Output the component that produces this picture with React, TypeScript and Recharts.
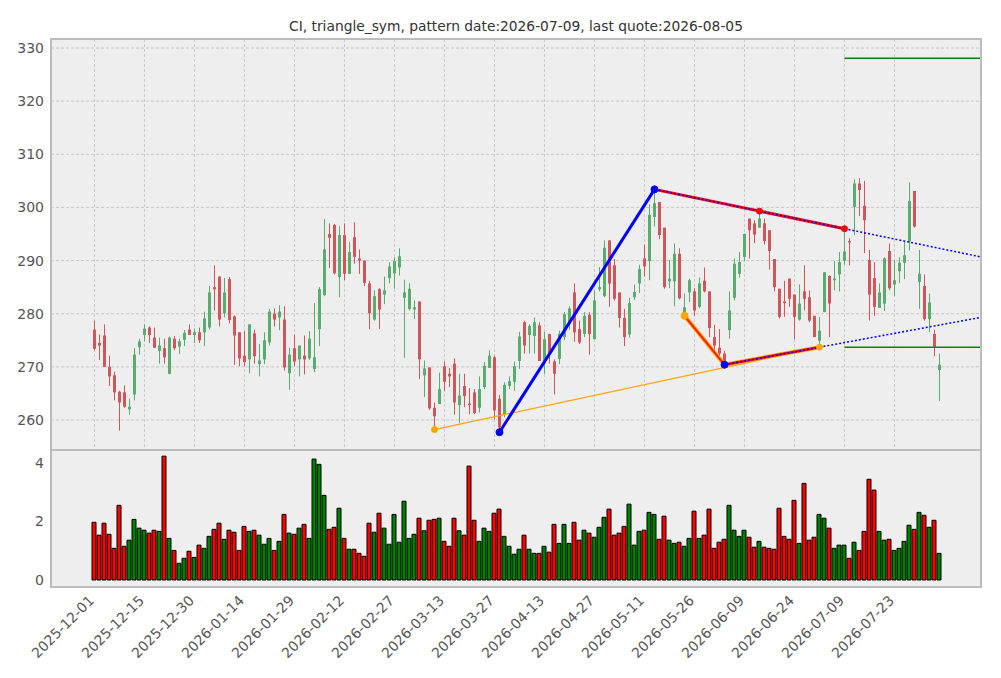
import React from 'react'
import {
  ComposedChart, Bar, Cell, XAxis, YAxis, CartesianGrid, ReferenceLine, ReferenceDot,
} from 'recharts'

// daily candles, bar index 0 = 2025-12-01
const opens = [
  277.0, 274.5, 275.9, 270.0, 268.4, 265.3, 265.2, 262.0, 264.8, 273.7,
  276.0, 277.4, 275.5, 273.0, 273.5, 268.7, 275.3, 273.8, 275.1, 277.0,
  276.0, 276.5, 276.5, 277.4, 285.0, 287.0, 280.1, 286.5, 279.5, 276.5,
  272.1, 271.4, 276.3, 270.5, 271.4, 274.6, 280.0, 279.3, 278.9, 268.8,
  273.5, 271.4, 272.1, 271.6, 269.6, 277.1, 283.5, 295.0, 296.7, 286.9,
  294.8, 287.5, 294.4, 290.4, 290.0, 285.7, 278.9, 284.6, 283.6, 286.7,
  287.6, 288.7, 283.0, 280.9, 280.8, 282.3, 268.4, 269.9, 262.3, 263.0,
  270.1, 268.7, 270.6, 262.8, 266.4, 263.1, 265.2, 262.3, 266.2, 269.8,
  271.8, 264.0, 261.0, 266.4, 267.2, 271.1, 278.4, 276.0, 275.8, 277.8,
  271.0, 276.2, 271.0, 271.5, 275.6, 278.4, 284.0, 277.1, 276.2, 279.8,
  275.2, 284.6, 283.3, 293.8, 289.1, 284.0, 279.2, 276.1, 283.1, 285.7,
  290.4, 289.9, 298.2, 301.0, 296.2, 286.1, 286.1, 291.3, 280.2, 284.0,
  284.2, 281.3, 286.2, 284.2, 275.6, 273.6, 272.5, 276.9, 283.0, 287.5,
  290.7, 297.9, 297.0, 296.2, 297.0, 295.7, 290.3, 284.7, 282.3, 286.6,
  283.6, 278.9, 284.2, 283.1, 279.6, 274.9, 280.3, 287.1, 286.3, 287.4,
  290.0, 293.7, 300.1, 304.5, 300.3, 290.1, 286.7, 281.1, 281.9, 291.8,
  285.5, 288.0, 289.6, 293.6, 303.1, 286.0, 285.2, 279.0, 276.2, 269.4,
]
const highs = [
  278.7, 276.1, 278.0, 272.1, 269.1, 265.5, 266.5, 264.0, 273.5, 275.3,
  278.0, 277.6, 277.4, 275.5, 275.3, 275.7, 275.8, 275.3, 276.9, 278.0,
  277.2, 277.4, 280.4, 285.2, 289.1, 287.0, 286.7, 286.9, 279.7, 276.5,
  276.7, 278.0, 277.0, 274.3, 276.5, 280.9, 281.0, 281.6, 281.4, 273.6,
  276.1, 274.0, 275.9, 276.7, 282.0, 285.0, 297.8, 297.0, 296.9, 296.5,
  297.0, 293.5, 297.2, 292.1, 290.0, 286.2, 284.4, 284.8, 287.0, 289.7,
  290.6, 292.3, 286.4, 285.8, 282.5, 282.3, 271.2, 269.9, 263.3, 268.9,
  271.0, 269.8, 271.6, 268.7, 268.7, 266.0, 265.8, 268.2, 270.9, 273.1,
  272.1, 264.7, 267.1, 268.2, 271.0, 276.6, 278.7, 278.0, 279.3, 278.4,
  276.6, 276.2, 271.4, 276.8, 280.3, 281.4, 285.7, 278.7, 280.3, 280.3,
  284.4, 288.8, 293.8, 293.8, 290.3, 284.0, 280.9, 283.0, 285.5, 289.2,
  293.0, 300.6, 303.4, 301.0, 296.2, 290.1, 293.2, 292.3, 283.8, 286.6,
  284.8, 286.8, 288.7, 284.2, 277.9, 277.1, 273.0, 284.2, 290.4, 291.6,
  295.1, 297.9, 297.6, 299.3, 297.9, 295.7, 290.3, 284.7, 286.2, 286.6,
  283.6, 285.5, 289.1, 284.4, 279.6, 279.4, 287.8, 287.2, 289.9, 291.6,
  296.0, 294.2, 305.3, 305.5, 305.0, 292.0, 289.7, 285.7, 290.6, 293.2,
  290.1, 290.6, 293.6, 304.7, 303.1, 292.0, 287.4, 283.8, 277.0, 272.5,
]
const lows = [
  273.1, 271.3, 270.0, 266.4, 263.7, 258.0, 262.3, 261.0, 263.7, 272.3,
  274.8, 274.5, 273.5, 270.6, 270.6, 268.6, 273.1, 272.4, 273.9, 276.0,
  274.5, 274.5, 273.9, 277.0, 280.6, 277.6, 279.3, 278.2, 270.4, 270.1,
  270.1, 268.8, 270.6, 268.2, 270.5, 274.0, 277.6, 276.9, 269.3, 265.7,
  270.1, 268.2, 268.6, 271.3, 269.0, 273.9, 283.3, 288.6, 287.4, 283.1,
  286.3, 287.5, 289.4, 287.5, 285.2, 277.1, 278.7, 277.1, 281.8, 285.7,
  284.7, 287.2, 271.7, 280.6, 279.0, 267.7, 264.3, 261.9, 258.2, 263.0,
  265.5, 266.2, 261.0, 259.4, 262.4, 261.1, 261.1, 261.4, 265.8, 269.8,
  260.1, 257.7, 260.5, 265.8, 265.5, 269.6, 272.5, 272.5, 272.5, 271.1,
  268.7, 270.6, 264.8, 270.5, 275.0, 277.0, 274.7, 274.3, 275.6, 272.3,
  275.2, 284.2, 283.1, 281.3, 282.5, 277.4, 273.9, 275.5, 282.6, 283.9,
  287.0, 286.3, 296.4, 294.0, 284.7, 284.8, 281.4, 282.7, 279.6, 282.2,
  279.6, 281.0, 284.0, 275.6, 273.1, 271.8, 270.4, 275.3, 282.5, 286.8,
  289.9, 290.4, 293.3, 296.2, 293.0, 288.3, 284.2, 279.1, 279.4, 281.3,
  275.2, 278.7, 280.6, 278.4, 275.6, 273.7, 280.3, 275.6, 284.4, 284.2,
  289.2, 289.1, 294.8, 298.4, 291.4, 278.7, 279.6, 281.1, 280.5, 284.4,
  283.3, 285.8, 286.5, 291.9, 296.2, 280.9, 278.7, 276.5, 272.0, 263.6,
]
const closes = [
  273.4, 274.0, 270.0, 268.2, 265.2, 263.3, 262.5, 262.5, 272.3, 274.8,
  277.2, 276.0, 273.6, 274.0, 271.8, 275.5, 273.5, 274.8, 276.4, 276.0,
  276.5, 275.0, 279.1, 284.0, 284.6, 278.9, 284.0, 278.8, 275.9, 271.6,
  270.9, 278.0, 272.0, 271.2, 275.0, 280.4, 278.9, 280.4, 269.9, 272.3,
  271.0, 274.0, 271.4, 275.3, 271.8, 284.6, 292.1, 294.3, 287.6, 294.8,
  287.5, 291.6, 290.7, 290.0, 285.8, 280.1, 283.3, 280.8, 284.4, 288.9,
  289.9, 290.8, 284.0, 284.7, 281.2, 271.4, 269.7, 262.2, 260.7, 265.8,
  267.2, 268.2, 263.3, 264.6, 264.5, 262.8, 261.3, 265.8, 270.2, 272.1,
  261.8, 258.6, 266.6, 267.3, 270.1, 275.7, 274.0, 277.7, 278.4, 271.1,
  275.2, 272.3, 268.7, 276.2, 279.9, 281.0, 276.5, 274.6, 279.6, 276.2,
  282.5, 285.0, 292.4, 285.7, 282.8, 279.2, 275.6, 282.0, 284.1, 288.4,
  288.9, 298.6, 300.8, 294.8, 285.0, 286.6, 291.3, 282.9, 281.2, 286.3,
  280.6, 285.7, 284.2, 277.3, 274.0, 272.5, 271.0, 280.6, 289.4, 289.7,
  295.0, 295.7, 294.9, 297.9, 293.7, 291.8, 285.0, 279.4, 282.0, 282.8,
  279.4, 281.9, 282.8, 278.7, 275.6, 276.8, 287.8, 281.9, 286.6, 289.7,
  291.7, 293.4, 304.5, 303.3, 297.6, 283.6, 281.3, 284.0, 290.4, 284.8,
  286.3, 289.6, 291.0, 301.2, 296.4, 287.5, 279.0, 282.1, 273.8, 270.4,
]
const volumes = [
  1.97, 1.53, 1.94, 1.56, 1.08, 2.55, 1.15, 1.36, 2.07, 1.77,
  1.70, 1.60, 1.70, 1.66, 4.23, 1.42, 1.01, 0.57, 0.74, 0.98,
  0.77, 1.19, 1.08, 1.49, 1.73, 1.94, 1.39, 1.70, 1.63, 1.01,
  1.83, 1.66, 1.70, 1.53, 1.22, 1.42, 1.01, 1.32, 2.24, 1.60,
  1.56, 1.77, 1.90, 1.42, 4.13, 3.95, 2.89, 1.73, 1.80, 2.45,
  1.42, 1.05, 1.05, 0.91, 0.81, 1.94, 1.63, 2.28, 1.77, 1.22,
  2.24, 1.29, 2.69, 1.42, 1.56, 2.11, 1.68, 2.04, 2.07, 2.11,
  1.32, 1.15, 2.11, 1.68, 1.53, 3.89, 2.04, 1.32, 1.77, 1.66,
  2.28, 2.42, 1.49, 1.15, 0.88, 1.05, 1.53, 1.05, 0.91, 0.91,
  1.15, 0.95, 1.90, 1.25, 1.90, 1.25, 1.97, 1.36, 1.70, 1.60,
  1.46, 1.80, 2.14, 2.42, 1.53, 1.60, 1.83, 2.59, 1.19, 1.66,
  1.70, 2.31, 2.24, 1.39, 2.18, 1.36, 1.25, 1.29, 1.15, 1.42,
  2.35, 1.42, 1.53, 2.42, 1.08, 1.29, 1.39, 2.55, 1.70, 1.49,
  1.70, 1.46, 1.12, 1.32, 1.12, 1.08, 1.05, 2.45, 1.49, 1.39,
  2.72, 1.25, 3.30, 1.36, 1.46, 2.24, 2.11, 1.77, 1.08, 1.19,
  1.19, 0.74, 1.29, 1.01, 1.66, 3.44, 3.07, 1.66, 1.36, 1.39,
  1.01, 1.08, 1.32, 1.87, 1.73, 2.31, 2.21, 1.80, 2.04, 0.91,
]

const xTicks = [0, 10, 20, 30, 40, 50, 60, 70, 80, 90, 100, 110, 120, 130, 140, 150, 160]
const xTickLabels = [
  '2025-12-01', '2025-12-15', '2025-12-30', '2026-01-14', '2026-01-29', '2026-02-12',
  '2026-02-27', '2026-03-13', '2026-03-27', '2026-04-13', '2026-04-27', '2026-05-11',
  '2026-05-26', '2026-06-09', '2026-06-24', '2026-07-09', '2026-07-23',
]
const priceTicks = [260, 270, 280, 290, 300, 310, 320, 330]
const volumeTicks = [0, 2, 4]

// pattern pivots: [bar index, price]
const upperPivots = [[112, 303.4], [133, 299.3], [150, 296.0]]
const lowerPivots = [[118, 279.6], [126, 270.4], [145, 273.7]]
const swingLine = [[81, 257.7], [112, 303.4]]
const baseLine = [[68, 258.2], [145, 273.7]]
const targetLevels = [328.1, 273.7]

const X_MIN = -8.7
const X_MAX = 177.3
const PRICE_DOMAIN = [254.35, 331.7]
const UP = '#008000'
const DOWN = '#ff0000'

const data = opens.map((o, i) => ({
  i,
  open: o,
  high: highs[i],
  low: lows[i],
  close: closes[i],
  volume: volumes[i],
}))

// extend a two-point line to the right edge
const extend = (a: number[], b: number[]) => {
  const slope = (b[1] - a[1]) / (b[0] - a[0])
  return [b[0], b[1], X_MAX, b[1] + slope * (X_MAX - b[0])]
}

const Candle = (props: any) => {
  const { x, y, width, height, payload } = props
  if (payload == null) return null
  const top = Math.min(y, y + height)
  const bottom = Math.max(y, y + height)
  const span = payload.high - payload.low || 1
  const py = (v: number) => top + ((payload.high - v) / span) * (bottom - top)
  const up = payload.close >= payload.open
  const color = up ? '#5aab6e' : '#cf565b'
  const cx = x + width / 2
  const bTop = py(Math.max(payload.open, payload.close))
  const bBot = py(Math.min(payload.open, payload.close))
  return (
    <g>
      <line x1={cx} x2={cx} y1={top} y2={bottom} stroke={color} strokeWidth={1} />
      <rect x={cx - 1.5} y={bTop} width={3} height={Math.max(bBot - bTop, 1)} fill={color} />
    </g>
  )
}

const DateTick = (props: any) => {
  const { x, y, payload } = props
  const idx = xTicks.indexOf(payload.value)
  const ax = x - 3
  const ay = y + 3
  return (
    <text
      x={ax}
      y={ay}
      transform={`rotate(-45 ${ax} ${ay})`}
      textAnchor="end"
      dy="0.35em"
      fontSize={14}
      fill="#555"
    >
      {xTickLabels[idx]}
    </text>
  )
}

const seg = (a: number[], b: number[]) => [{ x: a[0], y: a[1] }, { x: b[0], y: b[1] }]

export default function App() {
  const upperExt = extend(upperPivots[0], upperPivots[2])
  const lowerExt = extend(lowerPivots[1], lowerPivots[2])
  const panel = { position: 'absolute' as const, left: 50, width: 932, border: '2px solid #bcbcbc', boxSizing: 'border-box' as const, pointerEvents: 'none' as const }
  const yTick = { fontSize: 14, fill: '#555' }

  return (
    <div style={{ position: 'relative', width: 1001, height: 678, margin: -8, background: '#fff', fontFamily: '"DejaVu Sans", sans-serif', overflow: 'hidden' }}>
      <div style={{ position: 'absolute', left: 51, width: 930, top: 18, textAlign: 'center', fontSize: 13.8, color: '#333' }}>
        CI, triangle_sym, pattern date:2026-07-09, last quote:2026-08-05
      </div>

      {/* candles */}
      <div style={{ position: 'absolute', left: 0, top: 0 }}>
        <ComposedChart width={1001} height={450} data={data} margin={{ top: 39, right: 20, bottom: 0, left: 0 }}>
          <CartesianGrid fill="#eeeeee" stroke="#c0c0c0" strokeDasharray="3 2" strokeWidth={0.8} />
          <XAxis dataKey="i" type="number" domain={[X_MIN, X_MAX]} ticks={xTicks} allowDataOverflow hide />
          <YAxis
            type="number"
            domain={PRICE_DOMAIN}
            ticks={priceTicks}
            allowDataOverflow
            width={51}
            axisLine={false}
            tickLine={false}
            tickSize={0}
            tickMargin={7}
            tick={yTick}
          />
          <Bar dataKey={(d: any) => [d.low, d.high]} barSize={3} shape={<Candle />} isAnimationActive={false} />
        </ComposedChart>
      </div>

      {/* pattern lines, drawn on top of the candles */}
      <div style={{ position: 'absolute', left: 0, top: 0 }}>
        <ComposedChart width={1001} height={450} data={data} margin={{ top: 39, right: 20, bottom: 0, left: 51 }}>
          <XAxis dataKey="i" type="number" domain={[X_MIN, X_MAX]} allowDataOverflow hide />
          <YAxis type="number" domain={PRICE_DOMAIN} allowDataOverflow hide />

          <ReferenceLine segment={seg(baseLine[0], baseLine[1])} stroke="#ffa500" strokeWidth={1.2} />
          <ReferenceLine segment={seg(swingLine[0], swingLine[1])} stroke="#0000ff" strokeWidth={3} />

          <ReferenceLine segment={seg(upperPivots[0], upperPivots[2])} stroke="#ff0000" strokeWidth={3} />
          <ReferenceLine segment={seg(upperPivots[0], upperPivots[2])} stroke="#0000ff" strokeWidth={1.5} strokeDasharray="2 2" />
          <ReferenceLine segment={[{ x: upperExt[0], y: upperExt[1] }, { x: upperExt[2], y: upperExt[3] }]} stroke="#0000ff" strokeWidth={1.5} strokeDasharray="2 2" />

          <ReferenceLine segment={seg(lowerPivots[0], lowerPivots[1])} stroke="#ffa500" strokeWidth={4} />
          <ReferenceLine segment={seg(lowerPivots[1], lowerPivots[2])} stroke="#ffa500" strokeWidth={4} />
          <ReferenceLine segment={seg(lowerPivots[0], lowerPivots[1])} stroke="#ff2000" strokeWidth={2} />
          <ReferenceLine segment={seg(lowerPivots[1], lowerPivots[2])} stroke="#ff0000" strokeWidth={2.5} />
          <ReferenceLine segment={seg(lowerPivots[1], lowerPivots[2])} stroke="#0000ff" strokeWidth={1.5} strokeDasharray="2 2" />
          <ReferenceLine segment={[{ x: lowerExt[0], y: lowerExt[1] }, { x: lowerExt[2], y: lowerExt[3] }]} stroke="#0000ff" strokeWidth={1.5} strokeDasharray="2 2" />

          {targetLevels.map((lv) => (
            <ReferenceLine key={lv} segment={[{ x: upperPivots[2][0], y: lv }, { x: X_MAX, y: lv }]} stroke={UP} strokeWidth={1.5} />
          ))}

          <ReferenceDot x={baseLine[0][0]} y={baseLine[0][1]} r={3} fill="#ffa500" stroke="#ffa500" />
          <ReferenceDot x={swingLine[0][0]} y={swingLine[0][1]} r={3.5} fill="#0000ff" stroke="#0000ff" />
          <ReferenceDot x={swingLine[1][0]} y={swingLine[1][1]} r={3.5} fill="#0000ff" stroke="#0000ff" />
          <ReferenceDot x={upperPivots[1][0]} y={upperPivots[1][1]} r={3} fill="#ff0000" stroke="#ff0000" />
          <ReferenceDot x={upperPivots[2][0]} y={upperPivots[2][1]} r={3} fill="#ff0000" stroke="#ff0000" />
          <ReferenceDot x={lowerPivots[0][0]} y={lowerPivots[0][1]} r={3.5} fill="#ffa500" stroke="#ffa500" />
          <ReferenceDot x={lowerPivots[1][0]} y={lowerPivots[1][1]} r={3.5} fill="#0000ff" stroke="#0000ff" />
          <ReferenceDot x={lowerPivots[2][0]} y={lowerPivots[2][1]} r={3} fill="#ffa500" stroke="#ffa500" />
        </ComposedChart>
      </div>

      {/* volume */}
      <div style={{ position: 'absolute', left: 0, top: 450 }}>
        <ComposedChart width={1001} height={228} data={data} margin={{ top: 0, right: 20, bottom: 0, left: 0 }}>
          <CartesianGrid fill="#eeeeee" horizontal={false} vertical={false} />
          <XAxis
            dataKey="i"
            type="number"
            domain={[X_MIN, X_MAX]}
            ticks={xTicks}
            allowDataOverflow
            height={91}
            axisLine={false}
            tickLine={false}
            tick={<DateTick />}
            interval={0}
          />
          <YAxis
            type="number"
            domain={[-0.24, 4.44]}
            ticks={volumeTicks}
            allowDataOverflow
            width={51}
            axisLine={false}
            tickLine={false}
            tickSize={0}
            tickMargin={7}
            tick={yTick}
          />
          <Bar dataKey="volume" barSize={4} stroke="#000" strokeWidth={1} isAnimationActive={false}>
            {data.map((d) => (
              <Cell key={d.i} fill={d.close >= d.open ? UP : DOWN} />
            ))}
          </Bar>
        </ComposedChart>
      </div>

      <div style={{ ...panel, top: 38, height: 413 }} />
      <div style={{ ...panel, top: 449, height: 139 }} />
    </div>
  )
}
